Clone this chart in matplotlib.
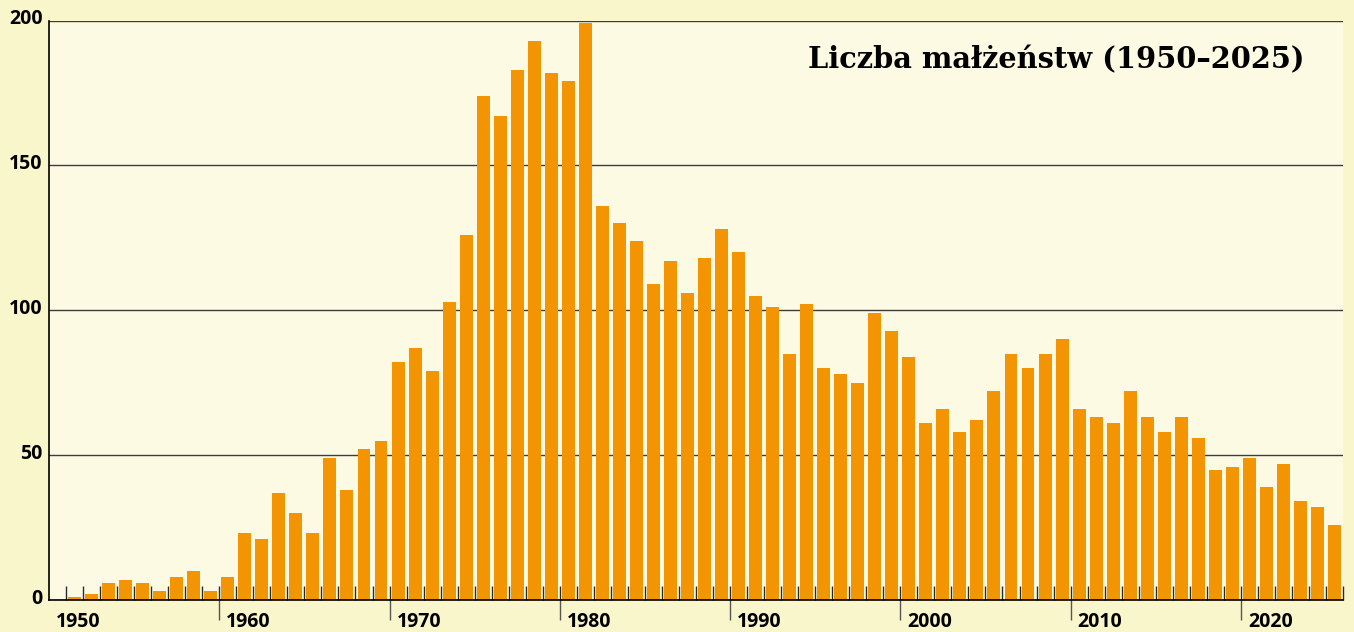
import numpy as np
import matplotlib
matplotlib.use("Agg")
import matplotlib.pyplot as plt
from matplotlib.transforms import ScaledTranslation

# slot 0 is empty; labels sit one slot to the right of each decade tick
years = list(range(1950, 2026))
marriages = [
    0, 1, 2, 6, 7, 6, 3, 8, 10, 3,
    8, 23, 21, 37, 30, 23, 49, 38, 52, 55,
    82, 87, 79, 103, 126, 174, 167, 183, 193, 182,
    179, 199, 136, 130, 124, 109, 117, 106, 118, 128,
    120, 105, 101, 85, 102, 80, 78, 75, 99, 93,
    84, 61, 66, 58, 62, 72, 85, 80, 85, 90,
    66, 63, 61, 72, 63, 58, 63, 56, 45, 46,
    49, 39, 47, 34, 32, 26,
]
decade_labels = ["1950", "1960", "1970", "1980", "1990", "2000", "2010", "2020"]
y_ticks = [0, 50, 100, 150, 200]
title = "Liczba małżeństw (1950–2025)"

outer_bg = "#FAF6CB"
inner_bg = "#FDFAE4"
bar_col = "#F39402"

fig = plt.figure(figsize=(13.54, 6.32), dpi=100, facecolor=outer_bg)
ax = fig.add_axes([49 / 1354, 1 - 600 / 632, (1343 - 49) / 1354, (600 - 20.5) / 632])
ax.set_facecolor(inner_bg)

x = np.arange(len(years))
ax.bar(x, marriages, width=0.76, color=bar_col, zorder=2)

ax.set_xlim(-0.5, len(years) - 0.5)
ax.set_ylim(0, 200)

# grid
ax.set_yticks(y_ticks)
ax.yaxis.grid(True, color="#3c3c3c", lw=1.0, zorder=1)
ax.set_axisbelow(True)

for side in ["top", "right"]:
    ax.spines[side].set_visible(False)
for side in ["left", "bottom"]:
    ax.spines[side].set_color("black")
    ax.spines[side].set_linewidth(1.2)
    ax.spines[side].set_zorder(3)

# x ticks: minor at every slot boundary (inward), major every 10 (outward)
bounds = np.arange(len(years) + 1) - 0.5
major_bounds = bounds[::10][: len(decade_labels)]
ax.xaxis.remove_overlapping_locs = False
ax.set_xticks(bounds, minor=True)
ax.set_xticks(major_bounds, labels=decade_labels)
ax.tick_params(axis="x", which="minor", direction="in", length=10, width=1.0,
               color="#2a2a2a", zorder=3)
ax.tick_params(axis="x", which="major", direction="out", length=14.4, width=1.0,
               color="#555555", pad=-6)
ax.xaxis.get_major_ticks()[0].tick1line.set_visible(False)
ax.xaxis.get_minor_ticks()[0].tick1line.set_visible(False)

lab_font = dict(family=["Open Sans", "DejaVu Sans"], weight="bold", size=14)
off = ScaledTranslation(7 / 100, 0, fig.dpi_scale_trans)
for lab in ax.get_xticklabels():
    lab.set_fontproperties(matplotlib.font_manager.FontProperties(**lab_font))
    lab.set_horizontalalignment("left")
    lab.set_transform(lab.get_transform() + off)

ax.tick_params(axis="y", length=0, pad=4.5)
ax.set_yticklabels([str(v) for v in y_ticks])
yoff = ScaledTranslation(0, 4 / 100, fig.dpi_scale_trans)
for lab in ax.get_yticklabels():
    lab.set_fontproperties(matplotlib.font_manager.FontProperties(**lab_font))
    lab.set_transform(lab.get_transform() + yoff)

fig.text(1304 / 1354, 1 - 60 / 632, title, ha="right", va="center",
         family=["DejaVu Serif"], weight="bold", fontsize=20.8)

fig.savefig("out.png", dpi=100, facecolor=outer_bg)
